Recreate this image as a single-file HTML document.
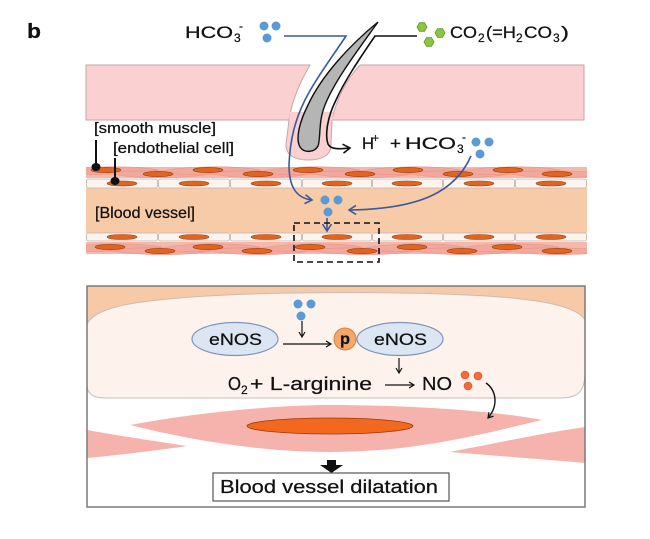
<!DOCTYPE html>
<html><head><meta charset="utf-8">
<style>
html,body{margin:0;padding:0;background:#fff;}
svg{display:block;}
text{font-family:"Liberation Sans",sans-serif;fill:#111;stroke:#111;stroke-width:0.25;}
</style></head><body>
<svg width="650" height="539" viewBox="0 0 650 539" xmlns="http://www.w3.org/2000/svg">
<defs>
<marker id="ab" markerUnits="userSpaceOnUse" markerWidth="14" markerHeight="14" refX="9" refY="6" orient="auto"><path d="M2,1.5 L9,6 L2,10.5" fill="none" stroke="#3a5a9c" stroke-width="1.6"/></marker>
<marker id="ak" markerUnits="userSpaceOnUse" markerWidth="14" markerHeight="14" refX="9" refY="6" orient="auto"><path d="M2,1.5 L9,6 L2,10.5" fill="none" stroke="#111" stroke-width="1.6"/></marker>
<marker id="as" markerUnits="userSpaceOnUse" markerWidth="10" markerHeight="10" refX="6" refY="4" orient="auto"><path d="M1,1 L6,4 L1,7" fill="none" stroke="#111" stroke-width="1.2"/></marker>
<path id="spU" d="M-52,2 C-25,-4 25,-5 52,0 C25,5 -25,6 -52,2 Z"/>
<path id="spL" d="M-52,-1 C-25,-4 25,-4 52,0 C25,5 -25,5 -52,-1 Z"/>
<clipPath id="vc"><rect x="86" y="160" width="501" height="100"/></clipPath>
</defs>

<!-- label b -->
<text x="27" y="38" font-size="20" font-weight="bold" textLength="14" lengthAdjust="spacingAndGlyphs">b</text>

<!-- HCO3- top -->
<text x="185" y="38" font-size="17" textLength="48" lengthAdjust="spacingAndGlyphs">HCO</text>
<text x="234" y="42" font-size="12">3</text>
<text x="239" y="30" font-size="12">-</text>
<circle cx="264" cy="26" r="4.5" fill="#5b9bd5"/>
<circle cx="276" cy="26" r="4.5" fill="#5b9bd5"/>
<circle cx="267" cy="38" r="4.5" fill="#5b9bd5"/>

<!-- CO2 top -->
<g fill="#8cc63f" stroke="#5e9a2a" stroke-width="0.8">
<polygon points="427,27 424.5,31.3 419.5,31.3 417,27 419.5,22.7 424.5,22.7"/>
<polygon points="445,33 442.5,37.3 437.5,37.3 435,33 437.5,28.7 442.5,28.7"/>
<polygon points="434,42 431.5,46.3 426.5,46.3 424,42 426.5,37.7 431.5,37.7"/>
</g>
<text x="450" y="38" font-size="17" textLength="27" lengthAdjust="spacingAndGlyphs">CO</text>
<text x="478" y="42" font-size="12">2</text>
<text x="486" y="38" font-size="17" textLength="30" lengthAdjust="spacingAndGlyphs">(=H</text>
<text x="516" y="42" font-size="12">2</text>
<text x="524" y="38" font-size="17" textLength="28" lengthAdjust="spacingAndGlyphs">CO</text>
<text x="553" y="42" font-size="12">3</text>
<text x="561" y="38" font-size="17" textLength="8" lengthAdjust="spacingAndGlyphs">)</text>

<!-- skin band -->
<path d="M86,65 L310,65 C300,82 292,100 289,120 L86,120 Z" fill="#fbd0d0" stroke="#c4a6a6" stroke-width="1"/>
<path d="M360,65 L584,65 L584,120 L332,120 C336,100 346,80 360,65 Z" fill="#fbd0d0" stroke="#c4a6a6" stroke-width="1"/>
<path d="M290,112 L286,145 C286,156 296,160 308,160 C321,160 331,156 331,145 L333,112 Z" fill="#fbd0d0"/>
<path d="M289,120 L286,145 C286,156 296,160 308,160 C321,160 331,156 331,145 L332,120" fill="none" stroke="#c4a6a6" stroke-width="1"/>

<!-- vessel -->
<g clip-path="url(#vc)">
<rect x="86" y="188" width="501" height="45" fill="#f7cba8"/>
<rect x="86" y="167" width="501" height="11" fill="#f5b8ad"/>
<rect x="86" y="242" width="501" height="12" fill="#f5b8ad"/>
<g fill="#f2a89d" stroke="#e5958a" stroke-width="0.6">
<use href="#spU" x="106" y="170"/><use href="#spL" x="158" y="174"/><use href="#spU" x="208" y="170"/><use href="#spL" x="258" y="174"/><use href="#spU" x="308" y="170"/><use href="#spL" x="360" y="174"/><use href="#spU" x="408" y="170"/><use href="#spL" x="458" y="174"/><use href="#spU" x="508" y="170"/><use href="#spL" x="557" y="174"/>
<use href="#spU" x="110" y="247"/><use href="#spL" x="160" y="251"/><use href="#spU" x="208" y="247"/><use href="#spL" x="257" y="251"/><use href="#spU" x="310" y="247"/><use href="#spL" x="362" y="251"/><use href="#spU" x="412" y="247"/><use href="#spL" x="462" y="251"/><use href="#spU" x="507" y="247"/><use href="#spL" x="557" y="251"/>
</g>
<g fill="#e2651f" stroke="#9c3d10" stroke-width="0.6">
<ellipse cx="106" cy="170" rx="15" ry="2.6"/><ellipse cx="158" cy="174" rx="15" ry="2.6"/><ellipse cx="208" cy="170" rx="15" ry="2.6"/><ellipse cx="258" cy="174" rx="15" ry="2.6"/><ellipse cx="308" cy="170" rx="15" ry="2.6"/><ellipse cx="360" cy="174" rx="15" ry="2.6"/><ellipse cx="408" cy="170" rx="15" ry="2.6"/><ellipse cx="458" cy="174" rx="15" ry="2.6"/><ellipse cx="508" cy="170" rx="15" ry="2.6"/><ellipse cx="557" cy="174" rx="15" ry="2.6"/>
<ellipse cx="110" cy="247" rx="15" ry="2.6"/><ellipse cx="160" cy="251" rx="15" ry="2.6"/><ellipse cx="208" cy="247" rx="15" ry="2.6"/><ellipse cx="257" cy="251" rx="15" ry="2.6"/><ellipse cx="310" cy="247" rx="15" ry="2.6"/><ellipse cx="362" cy="251" rx="15" ry="2.6"/><ellipse cx="412" cy="247" rx="15" ry="2.6"/><ellipse cx="462" cy="251" rx="15" ry="2.6"/><ellipse cx="507" cy="247" rx="15" ry="2.6"/><ellipse cx="557" cy="251" rx="15" ry="2.6"/>
</g>
<g fill="#fcf4ee" stroke="#bfb3ad" stroke-width="0.8">
<rect x="86.5" y="179" width="71" height="9" rx="2"/><rect x="158.5" y="179" width="71" height="9" rx="2"/><rect x="230.5" y="179" width="71" height="9" rx="2"/><rect x="302.5" y="179" width="69" height="9" rx="2"/><rect x="372.5" y="179" width="70" height="9" rx="2"/><rect x="443.5" y="179" width="71" height="9" rx="2"/><rect x="515.5" y="179" width="71" height="9" rx="2"/>
<rect x="86.5" y="233" width="71" height="8" rx="2"/><rect x="158.5" y="233" width="71" height="8" rx="2"/><rect x="230.5" y="233" width="71" height="8" rx="2"/><rect x="302.5" y="233" width="69" height="8" rx="2"/><rect x="372.5" y="233" width="70" height="8" rx="2"/><rect x="443.5" y="233" width="71" height="8" rx="2"/><rect x="515.5" y="233" width="71" height="8" rx="2"/>
</g>
<g fill="#e2651f" stroke="#9c3d10" stroke-width="0.6">
<ellipse cx="122" cy="183.5" rx="15" ry="2.5"/><ellipse cx="194" cy="183.5" rx="15" ry="2.5"/><ellipse cx="266" cy="183.5" rx="15" ry="2.5"/><ellipse cx="337" cy="183.5" rx="15" ry="2.5"/><ellipse cx="407" cy="183.5" rx="15" ry="2.5"/><ellipse cx="479" cy="183.5" rx="15" ry="2.5"/><ellipse cx="551" cy="183.5" rx="15" ry="2.5"/>
<ellipse cx="122" cy="237" rx="15" ry="2.5"/><ellipse cx="194" cy="237" rx="15" ry="2.5"/><ellipse cx="266" cy="237" rx="15" ry="2.5"/><ellipse cx="337" cy="237" rx="15" ry="2.5"/><ellipse cx="407" cy="237" rx="15" ry="2.5"/><ellipse cx="479" cy="237" rx="15" ry="2.5"/><ellipse cx="551" cy="237" rx="15" ry="2.5"/>
</g>
</g>

<!-- hair -->
<path d="M378,22 C350,45 322,75 308,105 C298,125 296,140 300,147 C304,153 314,153 318,146 C321,138 318,122 325,105 C335,80 358,50 378,22 Z" fill="#b5b5b5" stroke="#111" stroke-width="1.4"/>

<!-- blue line left -->
<path d="M284,36 L346,36 C330,60 315,80 305,100 C295,120 290,140 289,165 C289,185 295,198 312,200" fill="none" stroke="#3a5a9c" stroke-width="1.6" marker-end="url(#ab)"/>
<!-- black line right -->
<path d="M417,36 L375,36 C360,58 345,80 336,100 C327,118 325,135 328,144 C331,150 340,149 350,148" fill="none" stroke="#111" stroke-width="1.6" marker-end="url(#ak)"/>

<!-- H+ + HCO3- -->
<text x="362" y="149" font-size="17" textLength="12" lengthAdjust="spacingAndGlyphs">H</text>
<text x="372" y="142" font-size="12">+</text>
<text x="390" y="149" font-size="17" textLength="11" lengthAdjust="spacingAndGlyphs">+</text>
<text x="405" y="149" font-size="17" textLength="51" lengthAdjust="spacingAndGlyphs">HCO</text>
<text x="457" y="153" font-size="12">3</text>
<text x="462" y="141" font-size="12">-</text>
<circle cx="476" cy="142" r="4.5" fill="#5b9bd5"/>
<circle cx="489" cy="142" r="4.5" fill="#5b9bd5"/>
<circle cx="480" cy="154" r="4.5" fill="#5b9bd5"/>

<!-- right blue arrow -->
<path d="M471,156 C455,192 420,209 349,210" fill="none" stroke="#3a5a9c" stroke-width="1.6" marker-end="url(#ab)"/>

<!-- vessel dots -->
<circle cx="325" cy="200" r="4.5" fill="#5b9bd5"/>
<circle cx="338" cy="200" r="4.5" fill="#5b9bd5"/>
<circle cx="328" cy="212" r="4.5" fill="#5b9bd5"/>
<line x1="327" y1="218" x2="327" y2="231" stroke="#3a5a9c" stroke-width="1.6" marker-end="url(#ab)"/>

<!-- dashed box -->
<rect x="294" y="223" width="85" height="39" fill="none" stroke="#111" stroke-width="1.6" stroke-dasharray="6,4"/>

<!-- labels -->
<text x="94" y="133" font-size="15" textLength="122" lengthAdjust="spacingAndGlyphs">[smooth muscle]</text>
<text x="113" y="153" font-size="15" textLength="121" lengthAdjust="spacingAndGlyphs">[endothelial cell]</text>
<line x1="96" y1="140" x2="96" y2="167" stroke="#111" stroke-width="2"/>
<ellipse cx="96" cy="167" rx="4.5" ry="4" fill="#111"/>
<line x1="115" y1="158" x2="115" y2="181" stroke="#111" stroke-width="2"/>
<ellipse cx="115" cy="181" rx="4.5" ry="4" fill="#111"/>
<text x="95" y="218" font-size="16" textLength="100" lengthAdjust="spacingAndGlyphs">[Blood vessel]</text>

<!-- bottom panel -->
<rect x="87" y="286" width="498" height="221" fill="#fff"/>
<rect x="87" y="286" width="498" height="44" fill="#f7c9a7"/>
<path d="M87,324 C95,308 130,302 180,298 C260,291 420,291 500,297 C550,301 578,308 585,320 V372 C585,392 578,398 560,398 H105 C92,398 87,393 87,385 Z" fill="#fdf3ec" stroke="#c9bdb5" stroke-width="1"/>

<g fill="#f6b3ad">
<path d="M130,425 C200,412 280,405 330,405 C420,405 500,412 542,420 C490,432 420,452 330,452 C260,452 190,440 130,425 Z"/>
<path d="M87,430 C120,436 160,442 187,446 C160,450 120,455 87,458 Z"/>
<path d="M450,452 C500,442 550,432 585,427 L585,463 C550,460 500,456 450,452 Z"/>
</g>
<ellipse cx="330" cy="426" rx="83" ry="8" fill="#f3681f" stroke="#9a3a0a" stroke-width="0.8"/>

<rect x="87" y="286" width="498" height="221" fill="none" stroke="#7a7a7a" stroke-width="1.5"/>

<!-- eNOS -->
<ellipse cx="235" cy="339" rx="43" ry="16.5" fill="#dce6f2" stroke="#8096b9" stroke-width="1.2"/>
<text x="209" y="345" font-size="17" textLength="53" lengthAdjust="spacingAndGlyphs">eNOS</text>
<ellipse cx="400" cy="339" rx="43" ry="16.5" fill="#dce6f2" stroke="#8096b9" stroke-width="1.2"/>
<text x="374" y="345" font-size="17" textLength="53" lengthAdjust="spacingAndGlyphs">eNOS</text>
<circle cx="345" cy="339" r="11" fill="#f4a76a" stroke="#d68045" stroke-width="1"/>
<text x="340" y="344" font-size="16" font-weight="bold" textLength="10" lengthAdjust="spacingAndGlyphs">p</text>

<circle cx="298" cy="304" r="4.5" fill="#5b9bd5"/>
<circle cx="311" cy="304" r="4.5" fill="#5b9bd5"/>
<circle cx="301" cy="316" r="4.5" fill="#5b9bd5"/>
<line x1="302" y1="321" x2="302" y2="337" stroke="#111" stroke-width="1.2" marker-end="url(#as)"/>
<line x1="283" y1="344" x2="331" y2="344" stroke="#111" stroke-width="1.2" marker-end="url(#as)"/>
<line x1="399" y1="358" x2="399" y2="373" stroke="#111" stroke-width="1.2" marker-end="url(#as)"/>

<text x="228" y="390" font-size="18" textLength="13" lengthAdjust="spacingAndGlyphs">O</text>
<text x="241" y="394" font-size="12">2</text>
<text x="250" y="390" font-size="18" textLength="122" lengthAdjust="spacingAndGlyphs">+ L-arginine</text>
<line x1="385" y1="385" x2="414" y2="385" stroke="#111" stroke-width="1.2" marker-end="url(#as)"/>
<text x="422" y="390" font-size="18" textLength="30" lengthAdjust="spacingAndGlyphs">NO</text>
<circle cx="465" cy="375" r="4" fill="#f26b3a" stroke="#d9501f" stroke-width="0.6"/>
<circle cx="478" cy="376" r="4" fill="#f26b3a" stroke="#d9501f" stroke-width="0.6"/>
<circle cx="468" cy="386" r="4" fill="#f26b3a" stroke="#d9501f" stroke-width="0.6"/>
<path d="M486,383 C496,390 499,405 488,418" fill="none" stroke="#111" stroke-width="1.4" marker-end="url(#as)"/>

<!-- big arrow + box -->
<path d="M327,460 H336 V465 H343 L331.5,473 L320,465 H327 Z" fill="#111"/>
<rect x="213" y="473" width="236" height="28" fill="#fff" stroke="#555" stroke-width="1.2"/>
<text x="220" y="493" font-size="18" textLength="218" lengthAdjust="spacingAndGlyphs">Blood vessel dilatation</text>
</svg>
</body></html>
